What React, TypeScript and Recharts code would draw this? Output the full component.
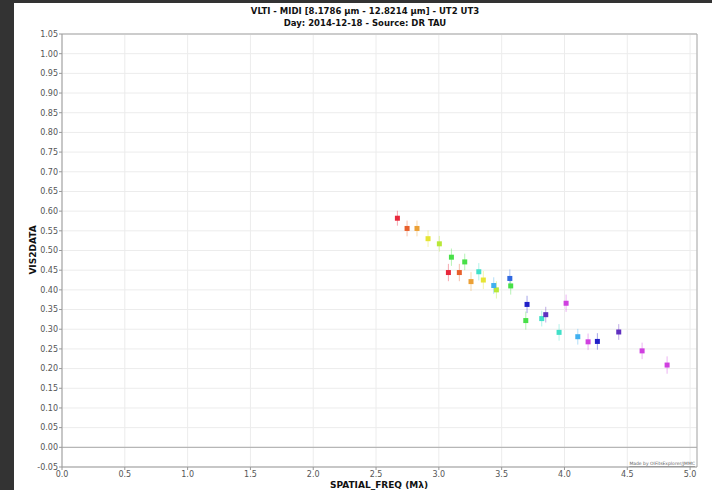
import React from 'react';
import { ScatterChart, Scatter, XAxis, YAxis, CartesianGrid, ErrorBar, ReferenceLine } from 'recharts';

const spatialFreq = [2.670, 2.747, 2.826, 2.914, 3.004, 3.100, 3.076, 3.163, 3.206, 3.256, 3.318, 3.354, 3.437, 3.458, 3.565, 3.572, 3.702, 3.692, 3.819, 3.851, 4.013, 3.957, 4.106, 4.188, 4.262, 4.432, 4.618, 4.817];
const vis2 = [0.582, 0.556, 0.556, 0.530, 0.517, 0.483, 0.444, 0.444, 0.471, 0.421, 0.446, 0.425, 0.411, 0.400, 0.429, 0.410, 0.363, 0.322, 0.327, 0.337, 0.366, 0.292, 0.281, 0.268, 0.269, 0.293, 0.245, 0.209];
const vis2Err = [0.019, 0.020, 0.020, 0.021, 0.020, 0.022, 0.022, 0.022, 0.021, 0.024, 0.022, 0.023, 0.021, 0.022, 0.023, 0.022, 0.022, 0.023, 0.020, 0.020, 0.022, 0.021, 0.020, 0.021, 0.021, 0.020, 0.021, 0.022];
const channel = [0, 1, 2, 3, 4, 5, 0, 1, 5, 2, 6, 3, 7, 4, 8, 5, 9, 5, 6, 10, 11, 6, 7, 11, 9, 10, 11, 11];
const channelColors = ['#e8283c', '#e8602c', '#eca035', '#e6e432', '#b8e838', '#48e048', '#40e0c8', '#40b0f0', '#3068e0', '#2020c8', '#6030c0', '#d040e0'];

const xTicks = [0, 0.5, 1, 1.5, 2, 2.5, 3, 3.5, 4, 4.5, 5];
const yTicks = [-0.05, 0, 0.05, 0.1, 0.15, 0.2, 0.25, 0.3, 0.35, 0.4, 0.45, 0.5, 0.55, 0.6, 0.65, 0.7, 0.75, 0.8, 0.85, 0.9, 0.95, 1.0, 1.05];

const X_MAX = 5.055;

const points = spatialFreq.map((x, i) => ({ x, y: vis2[i], err: vis2Err[i], ch: channel[i] }));
const groups = channelColors.map((_, c) => points.filter((p) => p.ch === c));

const font = 'DejaVu Sans, sans-serif';

const makeSquare = (color: string) => (props: any) => {
  const { cx, cy } = props;
  if (cx == null || cy == null) return <g />;
  return <rect x={cx - 2.5} y={cy - 2.5} width={5} height={5} fill={color} />;
};

export default function App() {
  return (
    <div style={{ position: 'absolute', left: 0, top: 0, width: 712, height: 490, background: '#333333', overflow: 'hidden' }}>
      <div style={{ position: 'absolute', left: 14, top: 3, width: 698, height: 487, background: '#ffffff' }} />
      <div style={{ position: 'absolute', left: 0, top: 0 }}>
        <ScatterChart width={712} height={490} margin={{ top: 34, right: 15, bottom: 0, left: 0 }}>
          <CartesianGrid stroke="#ececec" strokeWidth={1} />
          <XAxis
            type="number"
            dataKey="x"
            domain={[0, X_MAX]}
            ticks={xTicks}
            tickFormatter={(v: number) => v.toFixed(1)}
            height={23}
            tickSize={3}
            tickMargin={1}
            axisLine={{ stroke: '#999999' }}
            tickLine={{ stroke: '#999999' }}
            tick={{ fill: '#555555', fontSize: 8, fontFamily: font }}
            interval={0}
            allowDataOverflow
          />
          <YAxis
            type="number"
            dataKey="y"
            domain={[-0.05, 1.05]}
            ticks={yTicks}
            tickFormatter={(v: number) => v.toFixed(2)}
            width={62}
            tickSize={3}
            tickMargin={1}
            axisLine={{ stroke: '#999999' }}
            tickLine={{ stroke: '#999999' }}
            tick={{ fill: '#555555', fontSize: 8, fontFamily: font }}
            interval={0}
            allowDataOverflow
          />
          <ReferenceLine y={0} stroke="#aaaaaa" strokeWidth={1} />
          <ReferenceLine y={1.05} stroke="#cccccc" strokeWidth={2} />
          <ReferenceLine x={X_MAX} stroke="#aaaaaa" strokeWidth={1} />
          {groups.map((g, c) => (
            <Scatter key={c} data={g} isAnimationActive={false} shape={makeSquare(channelColors[c])}>
              <ErrorBar dataKey="err" direction="y" width={0} stroke={channelColors[c]} strokeOpacity={0.4} strokeWidth={1} />
            </Scatter>
          ))}
        </ScatterChart>
      </div>
      <svg width={712} height={490} style={{ position: 'absolute', left: 0, top: 0, pointerEvents: 'none' }}>
        <text x={365} y={14} textAnchor="middle" fontFamily={font} fontWeight="bold" fontSize={8.5} fill="#111">VLTI - MIDI [8.1786 µm - 12.8214 µm] - UT2 UT3</text>
        <text x={365} y={26} textAnchor="middle" fontFamily={font} fontWeight="bold" fontSize={8.5} fill="#111">Day: 2014-12-18 - Source: DR TAU</text>
        <text x={379} y={488} textAnchor="middle" fontFamily={font} fontWeight="bold" fontSize={9} fill="#111">SPATIAL_FREQ (Mλ)</text>
        <text x={0} y={0} transform="translate(36,250) rotate(-90)" textAnchor="middle" fontFamily={font} fontWeight="bold" fontSize={9} fill="#111">VIS2DATA</text>
        <text x={695} y={465} textAnchor="end" fontFamily={font} fontSize={4.5} fill="#666" textDecoration="underline">Made by OIFitsExplorer/JMMC</text>
      </svg>
    </div>
  );
}
